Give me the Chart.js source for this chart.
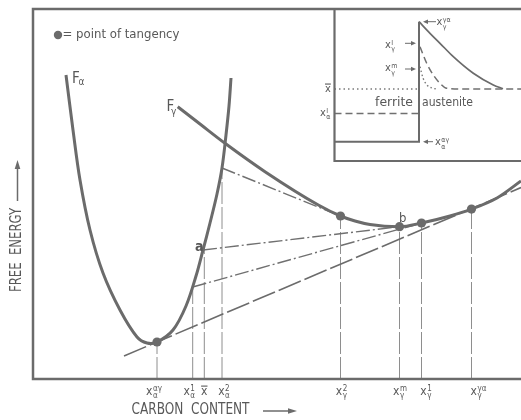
<!DOCTYPE html>
<html><head><meta charset="utf-8">
<script src="https://cdn.jsdelivr.net/npm/chart.js@4/dist/chart.umd.min.js"></script>
<style>html,body{margin:0;padding:0;background:#fff}canvas{display:block}</style>
</head><body>
<canvas id="c" width="521" height="420"></canvas>
<script>
// ---- data (arbitrary units: carbon content, free energy) ----
const fAlphaCurve = [[33,304],[40,249],[47,199],[57,149],[70,106],[87,69],[104,42],[114,36],[124,37],[140,49],[153,73],[163,103],[170,129],[177,156],[184,185],[189,211],[193,244],[196,273],[198,301]];
const fGammaCurve = [[144.7,272.3],[167,255],[192,235.7],[232,207.3],[285.3,174],[307.5,163],[322,158],[337,154.5],[366.5,152.3],[388.5,156],[417,163],[438.5,169.9],[464,181],[488,198]];
const tangentCarbon = [124, 307.5, 366.5, 388.5, 438.5];
const tangentEnergy = [37, 163, 152.3, 156, 169.9];
const commonTangent = [[91,23],[488,191.4]];
const chordA = [[170,129],[366.5,152.3]];
const chord1 = [[159.7,92],[388.5,156]];
const chord2 = [[189,211],[307.5,163]];
const markerCarbon = [124, 159.7, 171.3, 189, 307.5, 366.5, 388.5, 438.5];
const markerTop = [37, 92, 131, 211, 163, 152.3, 156, 169.9];
const markerSub = ['α','α','','α','γ','γ','γ','γ'];
const markerSup = ['αγ','1','','2','2','m','1','γα'];
const markerBar = [false,false,true,false,false,false,false,false];
// inset: concentration profile
const insetFrame = [[301.5,370],[301.5,218],[488,218]];
const ferriteProfile = [[301.5,237.3],[386,237.3],[386,357.3]];
const austeniteSolid = [[386,357.3],[397,345.7],[407,335.7],[420.3,322.3],[440.3,305.7],[460.3,294],[470,290.3]];
const austeniteDashed = [[387,332.3],[393.7,315.7],[400.3,304],[407,295.7],[413.7,290.7],[430,290],[488,290]];
const austeniteDotted = [[387,312.3],[390,301],[394,294],[399,291],[404,290]];
const xBarLine = [[301.5,290],[386,290]];
const xAlphaILine = [[301.5,265.5],[386,265.5]];

// ---- style ----
const INK = '#6b6b6b', TXT = '#585858';
const FONT = '"Liberation Sans Narrow","DejaVu Sans Condensed","Liberation Sans",sans-serif';
const pts = a => a.map(p => ({x:p[0], y:p[1]}));
const tickLabelShift = [-3,-3.5,0,2,1,0.5,4.5,7];

const datasets = [];
datasets.push({data: tangentCarbon.map((x,i)=>({x, y:tangentEnergy[i]})), showLine:false, pointRadius:4.6, pointBackgroundColor:INK, pointBorderWidth:0});
datasets.push({data: pts(fAlphaCurve), borderColor:INK, borderWidth:3, tension:0.35});
datasets.push({data: pts(fGammaCurve), borderColor:INK, borderWidth:3, cubicInterpolationMode:'monotone'});
datasets.push({data: pts(commonTangent), borderColor:INK, borderWidth:1.6, borderDash:[24,4]});
[chordA, chord1, chord2].forEach(c => datasets.push({data: pts(c), borderColor:'#707070', borderWidth:1.4, borderDash:[14,3,2,3]}));
markerCarbon.forEach((x,i) => datasets.push({data:[{x, y:0},{x, y:markerTop[i]}], borderColor:'#8e8e8e', borderWidth:1, borderDash:[22,3]}));
datasets.push({data: pts(insetFrame), borderColor:INK, borderWidth:2.2});
datasets.push({data: pts(ferriteProfile), borderColor:INK, borderWidth:2});
datasets.push({data: pts(austeniteSolid), borderColor:INK, borderWidth:1.7, cubicInterpolationMode:'monotone'});
datasets.push({data: pts(austeniteDashed), borderColor:'#707070', borderWidth:1.5, borderDash:[7,4], cubicInterpolationMode:'monotone'});
datasets.push({data: pts(austeniteDotted), borderColor:'#7a7a7a', borderWidth:1.4, borderDash:[1.5,2.5], cubicInterpolationMode:'monotone'});
datasets.push({data: pts(xBarLine), borderColor:'#7a7a7a', borderWidth:1.3, borderDash:[1.5,3]});
datasets.push({data: pts(xAlphaILine), borderColor:'#707070', borderWidth:1.3, borderDash:[7,4]});
datasets.forEach(d => { if (d.showLine === undefined) { d.showLine = true; d.pointRadius = 0; } d.fill = false; });

function fitText(ctx, text, x, y, size, width, weight){
  ctx.font = (weight||'') + ' ' + size + 'px ' + FONT;
  const w = ctx.measureText(text).width;
  ctx.save(); ctx.translate(x, y); ctx.scale(width / w, 1);
  ctx.textAlign = 'left'; ctx.textBaseline = 'middle'; ctx.fillText(text, 0, 0); ctx.restore();
}
function symWidth(ctx, s, size){
  ctx.font = size + 'px ' + FONT; const wx = ctx.measureText('x').width;
  ctx.font = Math.round(size*0.68) + 'px ' + FONT;
  const w2 = Math.max(s.sub ? ctx.measureText(s.sub).width : 0, s.sup ? ctx.measureText(s.sup).width : 0);
  return wx + (w2 ? w2 + 0.5 : 0);
}
function drawSym(ctx, x, y, s, size){
  ctx.textAlign = 'left'; ctx.textBaseline = 'alphabetic';
  ctx.font = size + 'px ' + FONT;
  const wx = ctx.measureText('x').width;
  ctx.fillText('x', x, y + size*0.26);
  if (s.bar){ ctx.save(); ctx.strokeStyle = TXT; ctx.lineWidth = 1.1; ctx.beginPath(); ctx.moveTo(x, y - size*0.45); ctx.lineTo(x + wx, y - size*0.45); ctx.stroke(); ctx.restore(); }
  ctx.font = Math.round(size*0.68) + 'px ' + FONT;
  if (s.sup) ctx.fillText(s.sup, x + wx + 0.5, y - size*0.02);
  if (s.sub) ctx.fillText(s.sub, x + wx + 0.5, y + size*0.55);
}
function arrow(ctx, x1, y1, x2, y2, head, half, lw){
  const a = Math.atan2(y2 - y1, x2 - x1);
  ctx.save(); ctx.strokeStyle = INK; ctx.fillStyle = INK; ctx.lineWidth = lw;
  ctx.beginPath(); ctx.moveTo(x1, y1); ctx.lineTo(x2 - head*Math.cos(a)*0.8, y2 - head*Math.sin(a)*0.8); ctx.stroke();
  ctx.beginPath(); ctx.moveTo(x2, y2);
  ctx.lineTo(x2 - head*Math.cos(a) - half*Math.sin(a), y2 - head*Math.sin(a) + half*Math.cos(a));
  ctx.lineTo(x2 - head*Math.cos(a) + half*Math.sin(a), y2 - head*Math.sin(a) - half*Math.cos(a));
  ctx.closePath(); ctx.fill(); ctx.restore();
}

const insetLabels = [
  {x:403.5, y:356.5, sub:'γ', sup:'γα'},
  {x:352, y:334, sub:'γ', sup:'I'},
  {x:352, y:310.5, sub:'γ', sup:'m'},
  {x:292, y:290, bar:true},
  {x:287, y:266, sub:'α', sup:'I'},
  {x:402, y:236.5, sub:'α', sup:'αγ'}
];
const insetArrows = [[403,357.3,390,357.3],[372,335.7,383,335.7],[372,310,383,310],[400,237.3,390,237.3]];

const decor = {
  id:'decor',
  afterDatasetsDraw(chart){
    const ctx = chart.ctx, A = chart.chartArea;
    const X = v => chart.scales.x.getPixelForValue(v), Y = v => chart.scales.y.getPixelForValue(v);
    ctx.save();
    // frame
    ctx.strokeStyle = INK; ctx.lineWidth = 2.5; ctx.lineCap = 'butt';
    ctx.beginPath(); ctx.moveTo(A.right, A.top); ctx.lineTo(A.left, A.top); ctx.lineTo(A.left, A.bottom); ctx.lineTo(A.right, A.bottom); ctx.stroke();
    ctx.fillStyle = TXT;
    // tick labels
    markerCarbon.forEach((c, i) => {
      const s = {sub:markerSub[i], sup:markerSup[i], bar:markerBar[i]};
      const w = symWidth(ctx, s, 12);
      drawSym(ctx, X(c) + tickLabelShift[i] - w/2, A.bottom + 12.5, s, 12);
    });
    // inset labels & arrows
    insetLabels.forEach(l => drawSym(ctx, X(l.x), Y(l.y), l, 11));
    insetArrows.forEach(a => arrow(ctx, X(a[0]), Y(a[1]), X(a[2]), Y(a[3]), 5, 2.2, 1));
    ctx.fillStyle = TXT;
    fitText(ctx, 'ferrite', X(342), Y(276), 13, 38);
    fitText(ctx, 'austenite', X(389), Y(276), 13, 51);
    // legend
    ctx.fillStyle = INK; ctx.beginPath(); ctx.arc(X(25), Y(344), 4.2, 0, Math.PI*2); ctx.fill();
    ctx.fillStyle = TXT;
    fitText(ctx, '= point of tangency', X(29.5), Y(344), 13, 117);
    // curve names
    ctx.textAlign = 'left'; ctx.textBaseline = 'alphabetic';
    ctx.font = '15px ' + FONT; ctx.fillText('F', X(39), Y(296));
    ctx.font = '10px ' + FONT; ctx.fillText('α', X(45.5), Y(294));
    ctx.font = '15px ' + FONT; ctx.fillText('F', X(133.5), Y(268.5));
    ctx.font = '10px ' + FONT; ctx.fillText('γ', X(138), Y(264));
    ctx.font = 'bold 14px ' + FONT; ctx.fillText('a', X(162), Y(128.5));
    ctx.font = '13px ' + FONT; ctx.fillText('b', X(366), Y(157.5));
    // axis titles
    fitText(ctx, 'CARBON  CONTENT', X(98.5), Y(-31.5), 15, 118);
    arrow(ctx, X(230), Y(-32), X(264), Y(-32), 9, 2.8, 1.5);
    ctx.save(); ctx.translate(X(-15.5), Y(87)); ctx.rotate(-Math.PI/2);
    fitText(ctx, 'FREE  ENERGY', 0, 0, 15, 84); ctx.restore();
    arrow(ctx, X(-15.5), Y(178), X(-15.5), Y(219), 9, 2.8, 1.5);
    ctx.restore();
  }
};

new Chart(document.getElementById('c'), {
  type:'scatter',
  data:{datasets},
  options:{
    responsive:false, animation:false, devicePixelRatio:1,
    layout:{autoPadding:false, padding:{left:33, top:9, right:0, bottom:41}},
    scales:{x:{type:'linear', display:false, min:0, max:488}, y:{type:'linear', display:false, min:0, max:370}},
    plugins:{legend:{display:false}, tooltip:{enabled:false}},
    elements:{line:{tension:0}}
  },
  plugins:[decor]
});
</script>
</body></html>
